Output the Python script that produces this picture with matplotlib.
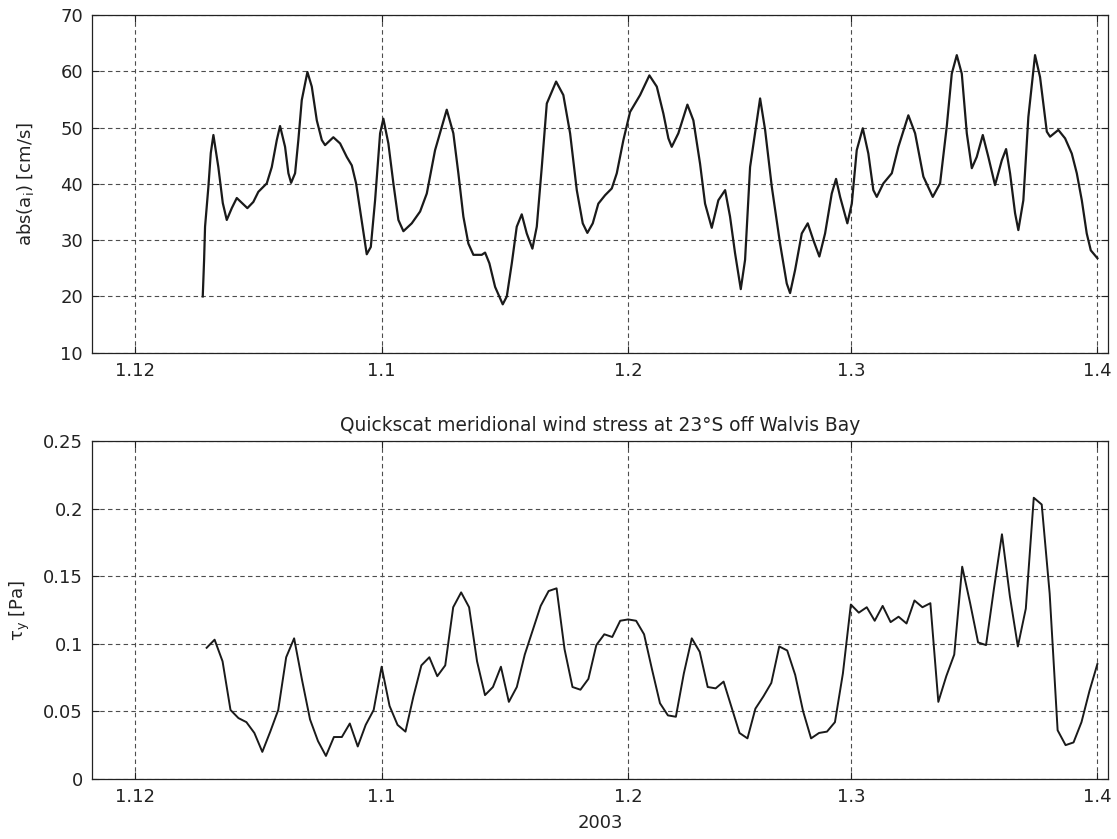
import numpy as np
import matplotlib
matplotlib.use("Agg")
import matplotlib.pyplot as plt

# Time axis: days since 1 Dec 2002
tick_days = [0, 31, 62, 90, 121]
tick_labels = ["1.12", "1.1", "1.2", "1.3", "1.4"]

# Current amplitude abs(a_i) [cm/s] (filtered record)
amp_days = [8.51, 8.68, 8.80, 9.22, 9.52, 9.85, 10.47, 11.03, 11.53, 12.16,
            12.79, 14.12, 14.87, 15.50, 16.56, 17.19, 17.82, 18.23, 18.86, 19.28,
            19.62, 20.12, 20.53, 20.96, 21.67, 22.22, 22.85, 23.48, 23.89, 24.93,
            25.78, 26.62, 27.25, 27.79, 28.29, 29.13, 29.64, 30.18, 30.81, 31.22,
            31.85, 32.48, 33.11, 33.74, 34.79, 35.84, 36.68, 37.72, 39.19, 40.02,
            40.65, 41.28, 41.91, 42.54, 43.59, 44.01, 44.55, 45.27, 46.23, 46.74,
            47.37, 47.99, 48.62, 49.25, 49.96, 50.51, 51.14, 51.77, 52.94, 53.85,
            54.70, 55.54, 56.29, 56.87, 57.55, 58.25, 59.10, 59.94, 60.57, 61.40,
            62.24, 63.50, 64.67, 65.60, 66.43, 67.06, 67.48, 68.31, 69.45, 70.20,
            71.04, 71.67, 72.51, 73.34, 74.19, 74.81, 75.44, 76.16, 76.70, 77.33,
            78.59, 79.22, 80.06, 81.10, 81.94, 82.36, 82.99, 83.83, 84.58, 85.29,
            86.04, 86.76, 87.60, 88.14, 88.65, 89.56, 90.12, 90.74, 91.50, 92.20,
            92.83, 93.26, 94.09, 95.15, 95.98, 97.23, 98.08, 99.12, 100.30, 101.22,
            102.06, 102.69, 103.32, 103.95, 104.58, 105.21, 105.83, 106.59, 107.29, 108.13,
            108.98, 109.52, 110.02, 110.65, 111.06, 111.69, 112.32, 113.16, 113.79, 114.64,
            115.05, 116.09, 116.94, 117.78, 118.41, 119.04, 119.66, 120.17, 121.00]
amp_vals = [20.0, 26.5, 32.4, 39.5, 45.5, 48.7, 43.0, 36.6, 33.6, 35.7,
            37.5, 35.7, 36.8, 38.6, 40.1, 43.0, 47.8, 50.3, 46.6, 41.9,
            40.2, 41.9, 47.8, 54.9, 59.9, 57.3, 51.3, 47.8, 46.9, 48.3,
            47.2, 44.8, 43.3, 40.1, 35.4, 27.5, 28.8, 37.1, 49.0, 51.6,
            47.2, 40.1, 33.6, 31.6, 33.0, 35.1, 38.3, 46.0, 53.2, 49.0,
            41.9, 34.2, 29.4, 27.4, 27.4, 27.8, 25.9, 21.7, 18.6, 20.0,
            25.9, 32.4, 34.6, 31.2, 28.5, 32.4, 43.0, 54.3, 58.2, 55.8,
            49.0, 38.9, 33.0, 31.3, 33.0, 36.5, 38.0, 39.2, 41.9, 47.8,
            52.8, 55.8, 59.3, 57.3, 52.5, 48.1, 46.6, 49.0, 54.1, 51.3,
            43.6, 36.5, 32.2, 37.1, 38.9, 34.2, 27.7, 21.3, 26.5, 43.0,
            55.2, 49.6, 39.5, 29.4, 22.3, 20.6, 24.7, 31.2, 33.0, 30.0,
            27.1, 31.2, 38.3, 40.9, 37.7, 33.0, 36.5, 46.0, 49.9, 45.4,
            38.9, 37.7, 40.1, 41.9, 46.6, 52.2, 49.0, 41.3, 37.7, 40.1,
            50.2, 59.6, 62.9, 59.6, 49.0, 42.8, 44.8, 48.7, 44.8, 39.8,
            44.2, 46.2, 41.9, 34.8, 31.8, 37.1, 51.9, 62.9, 59.0, 49.3,
            48.4, 49.6, 48.1, 45.4, 41.9, 37.1, 31.2, 28.2, 26.8]

# Daily Quikscat meridional wind stress [Pa], 10 Dec 2002 - 1 Apr 2003
tau_days = list(range(9, 122))
tau_vals = [0.097, 0.103, 0.087, 0.051, 0.045, 0.042, 0.034, 0.020, 0.035, 0.051,
            0.090, 0.104, 0.073, 0.044, 0.028, 0.017, 0.031, 0.031, 0.041, 0.024,
            0.040, 0.051, 0.083, 0.054, 0.040, 0.035, 0.061, 0.084, 0.090, 0.076,
            0.084, 0.127, 0.138, 0.127, 0.087, 0.062, 0.068, 0.083, 0.057, 0.068,
            0.092, 0.110, 0.128, 0.139, 0.141, 0.096, 0.068, 0.066, 0.074, 0.099,
            0.107, 0.105, 0.117, 0.118, 0.117, 0.107, 0.081, 0.056, 0.047, 0.046,
            0.078, 0.104, 0.094, 0.068, 0.067, 0.072, 0.053, 0.034, 0.030, 0.052,
            0.061, 0.071, 0.098, 0.095, 0.077, 0.050, 0.030, 0.034, 0.035, 0.042,
            0.078, 0.129, 0.123, 0.127, 0.117, 0.128, 0.116, 0.120, 0.115, 0.132,
            0.127, 0.130, 0.057, 0.076, 0.092, 0.157, 0.130, 0.101, 0.099, 0.141,
            0.181, 0.135, 0.098, 0.126, 0.208, 0.203, 0.137, 0.036, 0.025, 0.027,
            0.042, 0.065, 0.085]

plt.rcParams["font.family"] = ["DejaVu Sans"]
plt.rcParams["mathtext.fontset"] = "dejavusans"

FS = 13
TXT = "#222222"
x_min, x_max = -5.41, 122.3

fig = plt.figure(figsize=(11.17, 8.39), dpi=100)
ax1 = fig.add_axes([0.0824, 0.5796, 0.9093, 0.4023])
ax2 = fig.add_axes([0.0824, 0.0716, 0.9093, 0.4028])

ax1.plot(amp_days, amp_vals, color="#1a1a1a", lw=1.6,
         solid_joinstyle="round")
ax2.plot(tau_days, tau_vals, color="#1a1a1a", lw=1.4)

ax1.set_ylim(10, 70)
ax1.set_yticks(np.arange(10, 71, 10))
ax2.set_ylim(0, 0.25)
ax2.set_yticks([0, 0.05, 0.1, 0.15, 0.2, 0.25])
ax2.set_yticklabels(["0", "0.05", "0.1", "0.15", "0.2", "0.25"])

for ax in (ax1, ax2):
    ax.set_xlim(x_min, x_max)
    ax.set_xticks(tick_days)
    ax.set_xticklabels(tick_labels)
    ax.grid(True, color="0.3", linestyle=(0, (4, 3)), linewidth=0.8)
    ax.set_axisbelow(True)
    ax.tick_params(direction="in", top=True, right=True, length=5,
                   width=0.8, labelsize=FS, colors=TXT, pad=6.5)
    for s in ax.spines.values():
        s.set_linewidth(0.9)
        s.set_color(TXT)

ax1.set_ylabel(r"abs(a$_\mathregular{i}$) [cm/s]", fontsize=FS, color=TXT)
ax2.set_ylabel(r"τ$_\mathregular{y}$ [Pa]", fontsize=FS, color=TXT)
ax1.yaxis.set_label_coords(-0.055, 0.5)
ax2.yaxis.set_label_coords(-0.059, 0.5)
ax2.set_title("Quickscat meridional wind stress at 23°S off Walvis Bay",
              fontsize=13.4, color=TXT, pad=7)
ax2.set_xlabel("2003", fontsize=FS, color=TXT, labelpad=6)

fig.savefig("out.png", dpi=100)
